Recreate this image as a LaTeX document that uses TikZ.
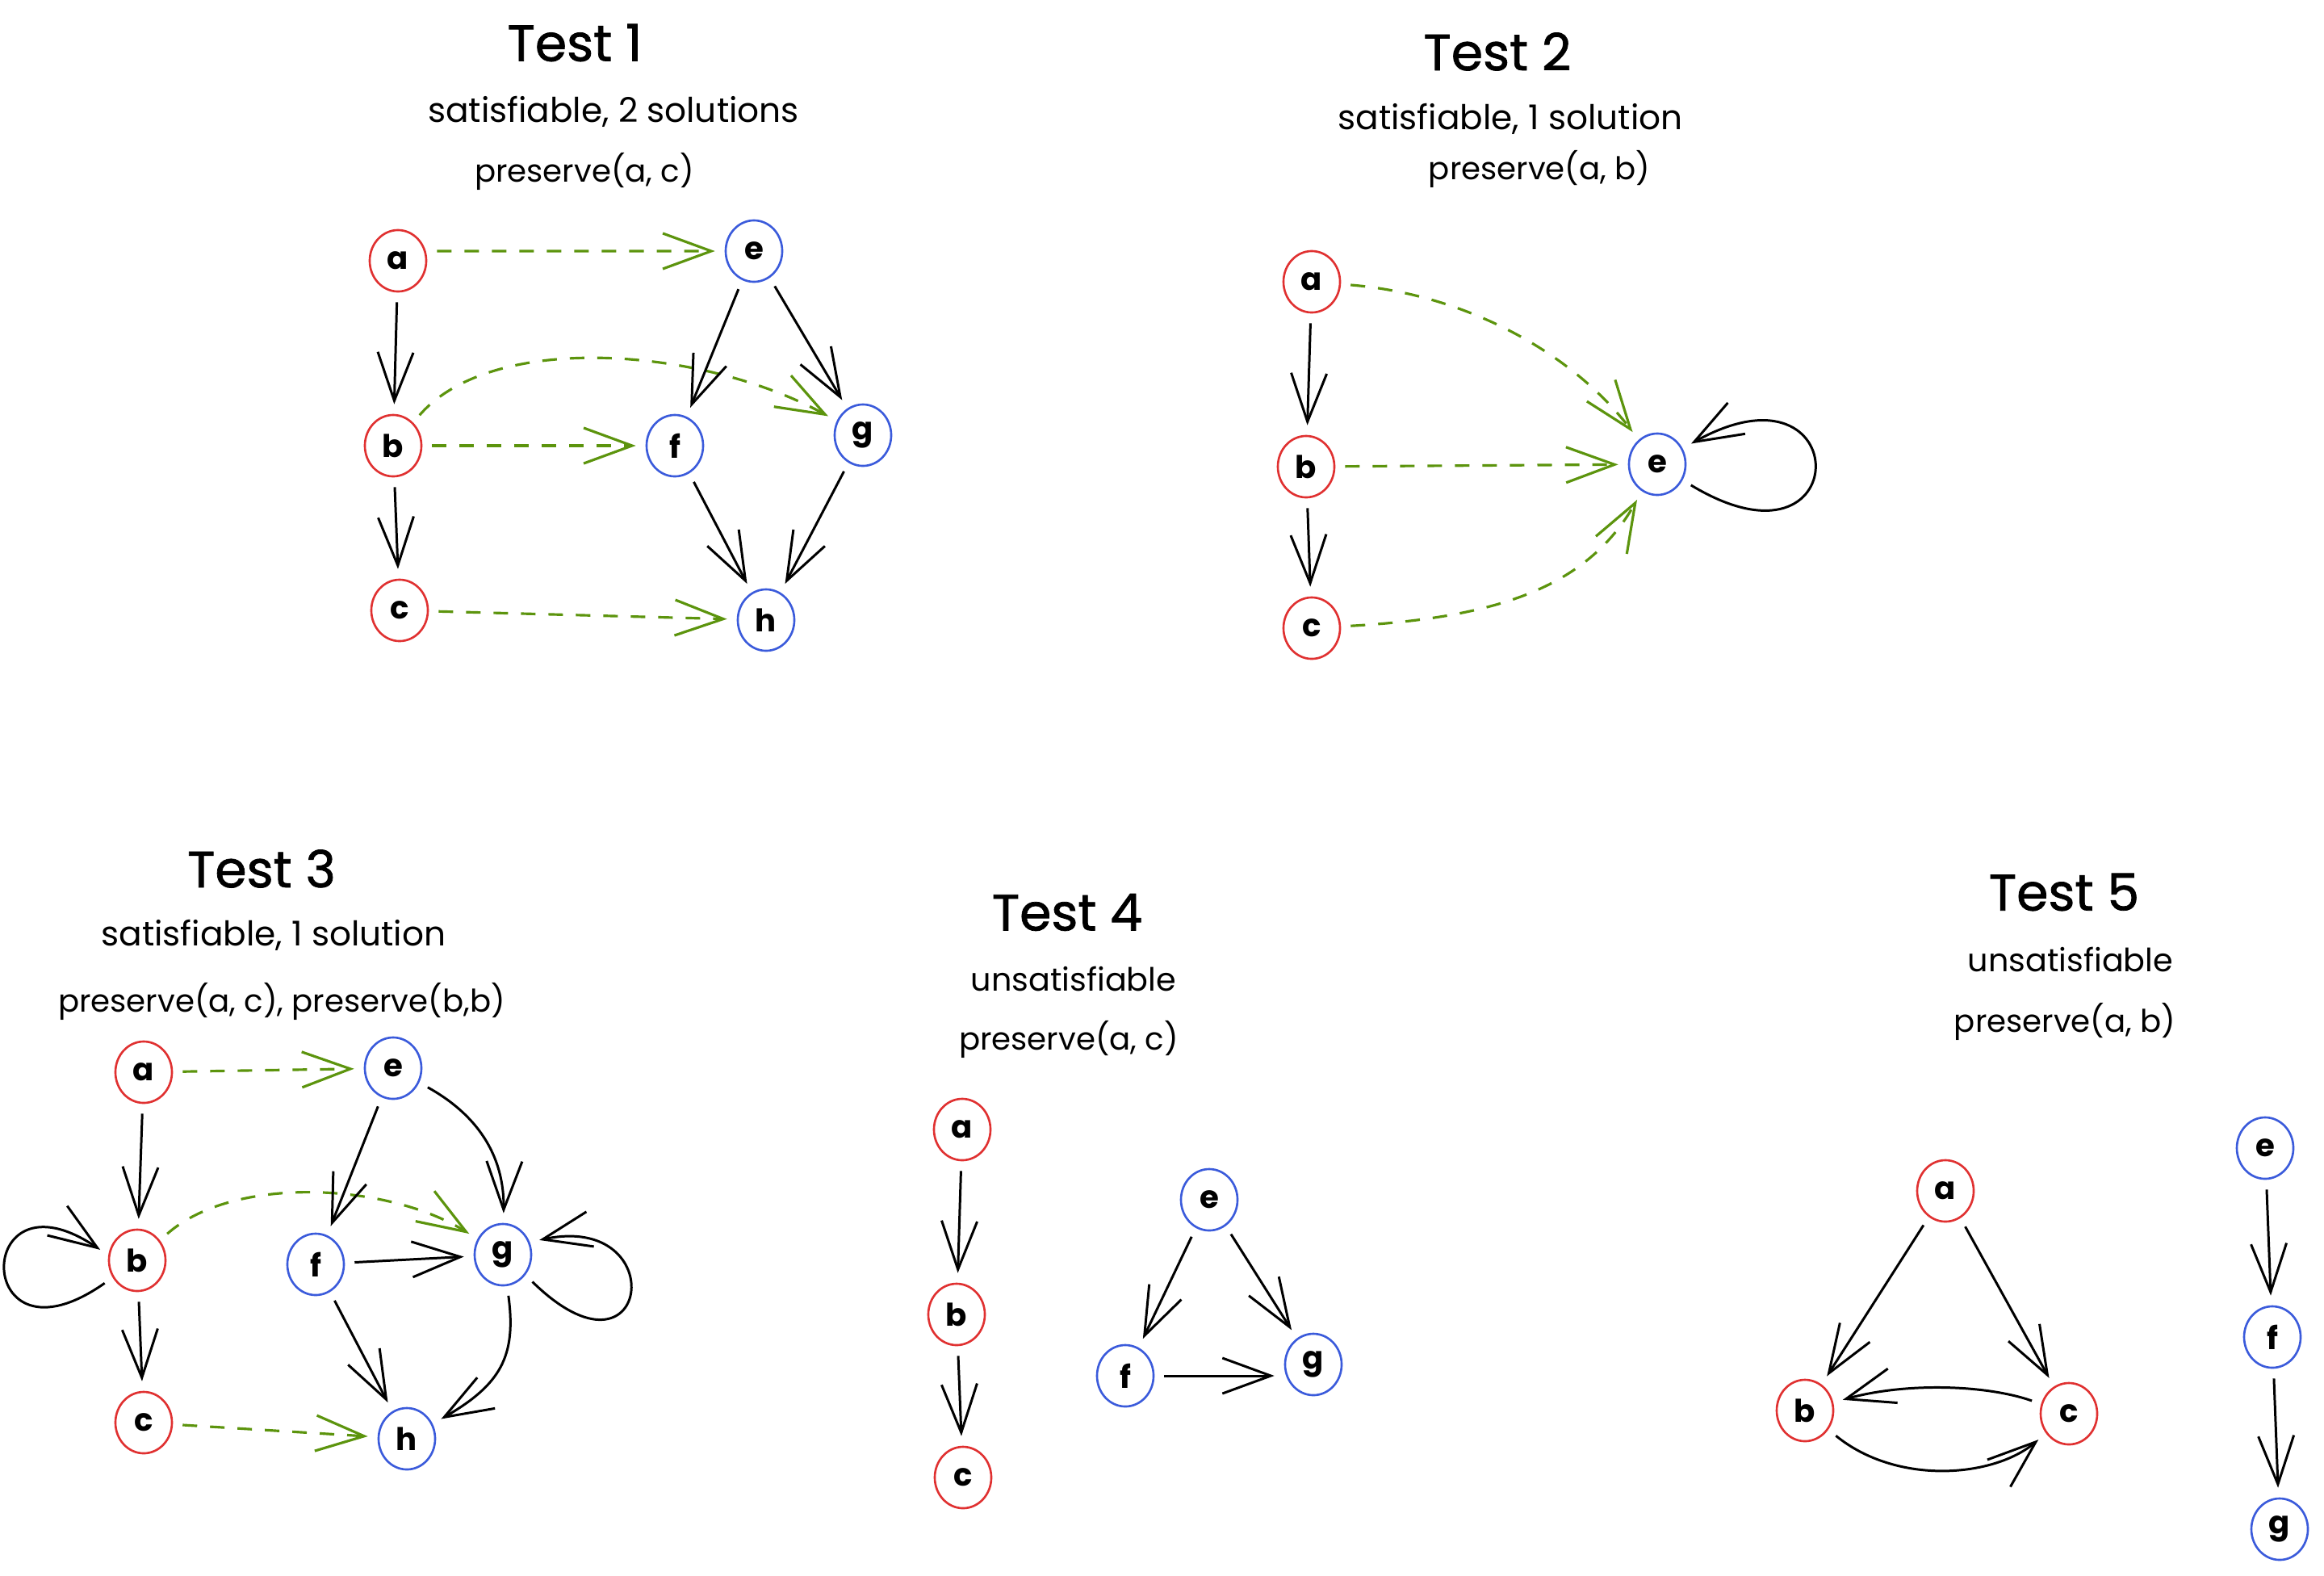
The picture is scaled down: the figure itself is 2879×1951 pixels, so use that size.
\documentclass[tikz,border=0pt]{standalone}
\usepackage{fontspec}
\setmainfont{Poppins}
\newfontfamily\titlefont[FakeBold=1.2]{Poppins}
\usetikzlibrary{shapes.geometric,arrows.meta}
\definecolor{nred}{HTML}{E03131}
\definecolor{nblue}{HTML}{3B5BDB}
\definecolor{ngreen}{HTML}{5C940D}
\begin{document}
\begin{tikzpicture}[x=0.01cm,y=-0.01cm,
  vnode/.style={ellipse, line width=0.75pt, minimum width=0.7cm, minimum height=0.76cm, inner sep=0pt, font=\fontsize{11}{11}\selectfont\bfseries},
  rnode/.style={vnode, draw=nred},
  bnode/.style={vnode, draw=nblue},
  edge/.style={draw=black, line width=0.85pt, -{Straight Barb[length=0.6cm,width=0.44cm]}, shorten <=0.12cm, shorten >=0.12cm},
  pres/.style={draw=ngreen, line width=0.9pt, dash pattern=on 0.18cm off 0.16cm, -{Straight Barb[length=0.6cm,width=0.44cm]}, shorten <=0.12cm, shorten >=0.12cm},
  title/.style={font=\titlefont\fontsize{18}{18}\selectfont, inner sep=0pt},
  sub/.style={font=\fontsize{12}{12}\selectfont, inner sep=0pt},
  unsat/.style={font=\fontsize{11.3}{11.3}\selectfont, inner sep=0pt},
  pline/.style={font=\fontsize{11}{11}\selectfont, inner sep=0pt}
]
\useasboundingbox[fill=white] (0,0) rectangle (2879,1951);

% ---------------- Test 1 ----------------
\node[title] (t1) at (712,53) {Test 1};
\node[sub] (t1s) at (760,138) {satisfiable, 2 solutions};
\node[pline] (t1p) at (724,212) {preserve(a, c)};
\node[rnode] (a1) at (493,323) {a};
\node[rnode] (b1) at (487,552) {b};
\node[rnode] (c1) at (495,756) {c};
\node[bnode] (e1) at (934,311) {e};
\node[bnode] (f1) at (836,552) {f};
\node[bnode] (g1) at (1069,539) {g};
\node[bnode] (h1) at (949,768) {h};
\draw[pres] ([yshift=0.12cm]a1.east) -- (e1.west);
\draw[pres] (b1) -- (f1);
\draw[pres] (b1) .. controls (610,410) and (870,430) .. (g1);
\draw[pres] (c1) -- (h1);
\draw[edge] (a1) -- (b1);
\draw[edge] (b1) -- (c1);
\draw[edge] (e1) -- (f1);
\draw[edge] (e1) -- (g1);
\draw[edge] (f1) -- (h1);
\draw[edge] (g1) -- (h1);

% ---------------- Test 2 ----------------
\node[title] (t2) at (1855,64) {Test 2};
\node[sub] (t2s) at (1871,147) {satisfiable, 1 solution};
\node[pline] (t2p) at (1907,209) {preserve(a, b)};
\node[rnode] (a2) at (1625,349) {a};
\node[rnode] (b2) at (1618,578) {b};
\node[rnode] (c2) at (1625,778) {c};
\node[bnode] (e2) at (2053,575) {e};
\draw[pres] (a2) .. controls (1820,365) and (1950,440) .. (e2);
\draw[pres] (b2) -- (e2);
\draw[pres] (c2) .. controls (1850,765) and (1965,730) .. (e2);
\draw[edge] (a2) -- (b2);
\draw[edge] (b2) -- (c2);
\draw[edge] (e2.-32) .. controls (2300,725) and (2300,435) .. (e2.32);

% ---------------- Test 3 ----------------
\node[title] (t3) at (324,1076) {Test 3};
\node[sub] (t3s) at (339,1158) {satisfiable, 1 solution};
\node[pline] (t3p) at (349,1240) {preserve(a, c), preserve(b,b)};
\node[rnode] (a3) at (178,1328) {a};
\node[rnode] (b3) at (170,1561) {b};
\node[rnode] (c3) at (178,1762) {c};
\node[bnode] (e3) at (487,1323) {e};
\node[bnode] (f3) at (391,1566) {f};
\node[bnode] (g3) at (623,1554) {g};
\node[bnode] (h3) at (504,1782) {h};
\draw[pres] (a3) -- (e3);
\draw[pres] (b3) .. controls (290,1455) and (480,1465) .. (g3);
\draw[pres] (c3) -- (h3);
\draw[edge] (a3) -- (b3);
\draw[edge] (b3) -- (c3);
\draw[edge] (b3.-145) .. controls (-35,1705) and (-35,1440) .. (b3.170);
\draw[edge] (e3) -- (f3);
\draw[edge] (e3) .. controls (590,1380) and (625,1430) .. (g3);
\draw[edge] (f3) -- (g3);
\draw[edge] (f3) -- (h3);
\draw[edge] (g3) .. controls (640,1680) and (620,1715) .. (h3);
\draw[edge] (g3.-42) .. controls (805,1730) and (835,1500) .. (g3.25);

% ---------------- Test 4 ----------------
\node[title] (t4) at (1322,1130) {Test 4};
\node[unsat] (t4s) at (1330,1212) {unsatisfiable};
\node[pline] (t4p) at (1324,1287) {preserve(a, c)};
\node[rnode] (a4) at (1192,1399) {a};
\node[rnode] (b4) at (1185,1628) {b};
\node[rnode] (c4) at (1193,1830) {c};
\node[bnode] (e4) at (1498,1486) {e};
\node[bnode] (f4) at (1394,1704) {f};
\node[bnode] (g4) at (1627,1690) {g};
\draw[edge] (a4) -- (b4);
\draw[edge] (b4) -- (c4);
\draw[edge] (e4) -- (f4);
\draw[edge] (e4) -- (g4);
\draw[edge] (f4.east) -- (f4.east -| g4.west);

% ---------------- Test 5 ----------------
\node[title] (t5) at (2557,1105) {Test 5};
\node[unsat] (t5s) at (2565,1188) {unsatisfiable};
\node[pline] (t5p) at (2558,1265) {preserve(a, b)};
\node[rnode] (a5) at (2410,1475) {a};
\node[rnode] (b5) at (2236,1747) {b};
\node[rnode] (c5) at (2563,1751) {c};
\node[bnode] (e5) at (2806,1422) {e};
\node[bnode] (f5) at (2815,1656) {f};
\node[bnode] (g5) at (2824,1894) {g};
\draw[edge] (a5) -- (b5);
\draw[edge] (a5) -- (c5);
\draw[edge] (c5) .. controls (2460,1715) and (2360,1712) .. (b5);
\draw[edge] (b5) .. controls (2350,1840) and (2470,1830) .. (c5);
\draw[edge] (e5) -- (f5);
\draw[edge] (f5) -- (g5);
\end{tikzpicture}
\end{document}
